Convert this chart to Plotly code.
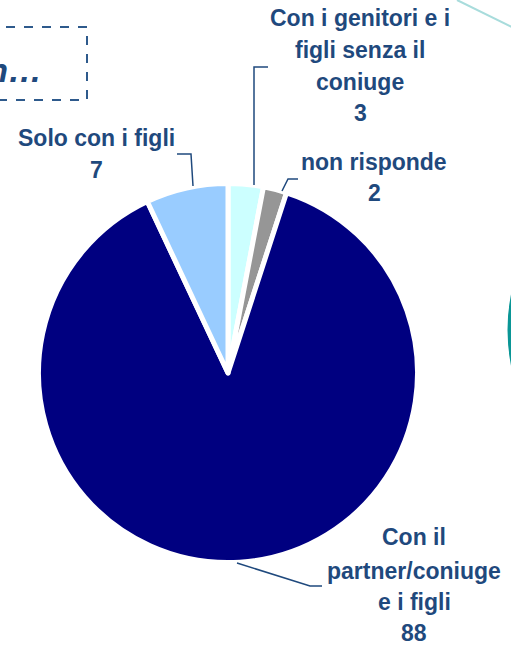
import plotly.graph_objects as go

# ---- data ----
categories = ["Con i genitori e i figli senza il coniuge", "non risponde",
              "Con il partner/coniuge e i figli", "Solo con i figli"]
values = [3, 2, 88, 7]
colors = ["#CCFFFF", "#969696", "#000080", "#99CCFF"]
label_lines = [
    ["Con i genitori e i", "figli senza il", "coniuge"],
    ["non risponde"],
    ["Con il", "partner/coniuge", "e i figli"],
    ["Solo con i figli"],
]

W, H = 511, 645
TXT = "#1F497D"


def px(x):
    return x / W


def py(y):
    return 1 - y / H


# pie geometry (pixels)
cx, cy, r = 228, 373, 189.5

fig = go.Figure()
fig.add_trace(go.Pie(
    labels=categories, values=values, sort=False, direction="clockwise",
    rotation=0, marker=dict(colors=colors, line=dict(color="white", width=5)),
    textinfo="none", hoverinfo="label+value", showlegend=False,
    domain=dict(x=[px(cx - r), px(cx + r)], y=[py(cy + r), py(cy - r)]),
))

# label placements: (center x, list of line-center y) in pixels
placements = [
    (360, [18, 50, 82, 113]),
    (374, [162, 193]),
    (414, [537, 571, 602, 633]),
    (96, [138, 170]),
]
annotations = []
for lines, val, (lx, ys) in zip(label_lines, values, placements):
    texts = lines + [str(val)]
    for t, yy in zip(texts, ys):
        annotations.append(dict(
            x=px(lx), y=py(yy), xref="paper", yref="paper", text=t,
            showarrow=False, xanchor="center", yanchor="middle",
            font=dict(family="Liberation Sans, Arial, sans-serif", size=23,
                      color=TXT, weight="bold"),
        ))

# cropped title text in dashed box
annotations.append(dict(
    x=px(44), y=py(70), xref="paper", yref="paper", text="<i>Con…</i>",
    showarrow=False, xanchor="right", yanchor="middle",
    font=dict(family="Liberation Sans, Arial, sans-serif", size=34,
              color=TXT, weight="bold"),
))

leader_paths = [
    [(254, 185), (254, 67), (268, 67)],
    [(282, 191), (288, 179), (298, 179)],
    [(237, 563), (310, 586), (322, 586)],
    [(193, 186), (191, 154), (177, 154)],
]
shapes = []
for pts in leader_paths:
    d = "M " + " L ".join(f"{px(a)},{py(b)}" for a, b in pts)
    shapes.append(dict(type="path", path=d, xref="paper", yref="paper",
                       line=dict(color=TXT, width=1.5)))

# dashed box
shapes.append(dict(type="rect", xref="paper", yref="paper",
                   x0=px(-20), x1=px(87), y0=py(100), y1=py(27),
                   line=dict(color="#2E5A8C", width=2, dash="dash")))
# decorative teal line top-right
shapes.append(dict(type="line", xref="paper", yref="paper",
                   x0=px(457), y0=py(0), x1=px(520), y1=py(31),
                   line=dict(color="#A8DCDC", width=2)))
# decorative teal circle on the right
shapes.append(dict(type="circle", xref="paper", yref="paper",
                   x0=px(509.5), x1=px(509.5 + 360), y0=py(330 + 180), y1=py(330 - 180),
                   line=dict(color="#0A9696", width=4)))

fig.update_layout(
    width=W, height=H, margin=dict(l=0, r=0, t=0, b=0),
    paper_bgcolor="white", plot_bgcolor="white",
    annotations=annotations, shapes=shapes,
)

fig.write_html(
    "out.html",
    config={"displayModeBar": False},
    post_script="document.body.style.margin='0';document.body.style.overflow='hidden';",
)
